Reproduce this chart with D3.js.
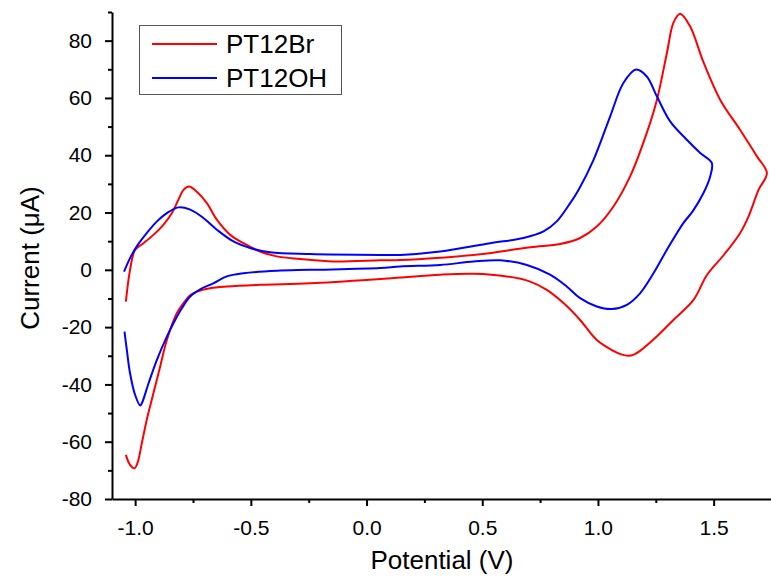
<!DOCTYPE html>
<html lang="en">
<head>
    <meta charset="UTF-8" />
    <title>Cyclic voltammetry PT12Br / PT12OH</title>
    <script src="https://d3js.org/d3.v7.min.js"></script>
    <style>
        body { margin: 0; background: #fff; }
        svg { display: block; font-family: "Liberation Sans", Arial, sans-serif; }
    </style>
</head>
<body>
    <div id="cv-graph"></div>

    <script>
        // PT12Br: anodic scan then cathodic scan back
        const brPotential = [-1.040, -1.022, -1.000, -0.964, -0.921, -0.878, -0.841, -0.813, -0.791, -0.767, -0.730, -0.690, -0.647, -0.589, -0.532, -0.460, -0.388, -0.287, -0.144, 0.059, 0.145, 0.318, 0.491, 0.707, 0.837, 0.923, 0.995, 1.067, 1.139, 1.211, 1.255, 1.298, 1.326, 1.355, 1.398, 1.456, 1.528, 1.614, 1.687, 1.730,
            1.694, 1.650, 1.614, 1.542, 1.471, 1.413, 1.326, 1.254, 1.182, 1.155, 1.132, 1.100, 1.067, 0.995, 0.923, 0.851, 0.779, 0.707, 0.606, 0.462, 0.318, 0.145, 0.059, -0.244, -0.460, -0.604, -0.676, -0.733, -0.762, -0.790, -0.820, -0.863, -0.892, -0.921, -0.950, -0.971, -0.990, -1.003, -1.022, -1.040]
        const brCurrent = [-11.1, 0, 7.0, 9.3, 12.2, 15.7, 19.8, 24.5, 27.9, 29.1, 27.0, 23.3, 17.5, 12.2, 9.3, 6.4, 4.7, 3.8, 2.9, 3.3, 3.4, 4.2, 5.4, 7.9, 9.0, 11.1, 15.1, 22.1, 32.6, 47.8, 59.4, 75.7, 86.2, 89.4, 85.0, 72.5, 59.4, 48.9, 39.6, 33.8,
            27.9, 18.5, 12.8, 5.0, -1.8, -10.5, -17.5, -23.3, -28.3, -29.6, -30.0, -29.5, -28.3, -24.5, -17.5, -11.6, -7.0, -4.1, -2.3, -1.4, -1.7, -2.7, -3.2, -4.7, -5.2, -5.8, -6.4, -7.6, -8.9, -11.5, -15.1, -24.5, -33.8, -43.1, -52.4, -60.5, -67.5, -69.3, -68.1, -64.6]

        // PT12OH
        const ohPotential = [-1.048, -1.022, -0.993, -0.950, -0.906, -0.863, -0.813, -0.762, -0.705, -0.647, -0.575, -0.503, -0.417, -0.244, 0.059, 0.145, 0.318, 0.534, 0.678, 0.765, 0.822, 0.880, 0.916, 0.981, 1.053, 1.110, 1.165, 1.211, 1.255, 1.312, 1.384, 1.442, 1.492,
            1.485, 1.456, 1.410, 1.369, 1.298, 1.240, 1.182, 1.125, 1.060, 0.995, 0.923, 0.865, 0.793, 0.693, 0.577, 0.462, 0.318, 0.145, 0.059, -0.244, -0.388, -0.532, -0.604, -0.662, -0.719, -0.762, -0.798, -0.827, -0.863, -0.906, -0.942, -0.971, -0.978, -1.000, -1.022, -1.036, -1.046]
        const ohCurrent = [-0.6, 4.1, 8.2, 12.8, 16.9, 19.8, 21.8, 21.0, 18.1, 14.0, 9.9, 7.6, 6.1, 5.5, 5.2, 5.2, 6.4, 9.3, 11.1, 13.4, 16.9, 23.3, 27.9, 38.4, 53.6, 65.2, 69.9, 67.5, 60.5, 51.8, 45.4, 40.8, 37.3,
            32.6, 26.8, 20.5, 16.3, 7.0, -1.2, -8.2, -12.2, -13.7, -12.8, -9.9, -5.8, -1.7, 1.7, 3.3, 2.9, 1.7, 1.2, 0.6, 0, -0.3, -1.2, -2.3, -4.7, -6.8, -9.3, -13.4, -17.5, -23.3, -31.4, -39.6, -46.6, -47.4, -43.7, -36.1, -27.9, -21.6]

        const seriesNames = ["PT12Br", "PT12OH"]
        const colors = ["#ff0000", "#0000ff"]

        const xTicks = [-1.0, -0.5, 0.0, 0.5, 1.0, 1.5]
        const xMinorTicks = [-0.75, -0.25, 0.25, 0.75, 1.25]
        const yTicks = [-80, -60, -40, -20, 0, 20, 40, 60, 80]
        const yMinorTicks = [-70, -50, -30, -10, 10, 30, 50, 70, 90]

        const width = 771
        const height = 578
        const margin = ({ top: 12, right: 0, bottom: 79, left: 112 })

        const x = d3.scaleLinear()
            .domain([-1.1, 1.75])
            .range([margin.left, margin.left + 659.5])

        const y = d3.scaleLinear()
            .domain([-80, 90])
            .range([height - margin.bottom, margin.top])

        const svg = d3.select("#cv-graph").append("svg")
            .attr("width", width)
            .attr("height", height)

        const series = [
            { name: seriesNames[0], values: brPotential.map((v, i) => [v, brCurrent[i]]) },
            { name: seriesNames[1], values: ohPotential.map((v, i) => [v, ohCurrent[i]]) }
        ]

        const line = d3.line()
            .x(d => x(d[0]))
            .y(d => y(d[1]))
            .curve(d3.curveCatmullRom.alpha(0.5))

        svg.append("g")
            .attr("fill", "none")
            .attr("stroke-width", 2)
            .attr("stroke-linejoin", "round")
            .selectAll("path")
            .data(series)
            .join("path")
            .attr("stroke", (d, i) => colors[i])
            .attr("d", d => line(d.values))

        // axes
        const styleAxis = g => {
            g.select(".domain").attr("stroke-width", 2)
            g.selectAll(".tick line").attr("stroke-width", 2)
            g.selectAll(".tick text").attr("font-size", 21).attr("fill", "#000")
        }

        svg.append("g")
            .attr("transform", `translate(0,${y(-80)})`)
            .call(d3.axisBottom(x).tickValues(xMinorTicks).tickSize(4).tickFormat(""))
            .call(g => g.select(".domain").remove())
            .call(g => g.selectAll(".tick line").attr("stroke-width", 2))

        svg.append("g")
            .attr("transform", `translate(${margin.left},0)`)
            .call(d3.axisLeft(y).tickValues(yMinorTicks).tickSize(4).tickFormat(""))
            .call(g => g.select(".domain").remove())
            .call(g => g.selectAll(".tick line").attr("stroke-width", 2))

        svg.append("g")
            .attr("transform", `translate(0,${y(-80)})`)
            .call(d3.axisBottom(x).tickValues(xTicks).tickSize(7).tickSizeOuter(0).tickPadding(14))
            .call(styleAxis)
            .call(g => g.selectAll(".tick text").text(d => d3.format(".1f")(d).replace("−", "-")))

        svg.append("g")
            .attr("transform", `translate(${margin.left},0)`)
            .call(d3.axisLeft(y).tickValues(yTicks).tickSize(7).tickSizeOuter(0).tickPadding(13))
            .call(styleAxis)
            .call(g => g.selectAll(".tick text").text(d => String(d)))

        // axis titles
        svg.append("text")
            .attr("x", 442)
            .attr("y", 569)
            .attr("text-anchor", "middle")
            .attr("font-size", 26)
            .text("Potential (V)")

        svg.append("text")
            .attr("transform", "translate(39,258) rotate(-90)")
            .attr("text-anchor", "middle")
            .attr("font-size", 26)
            .text("Current (μA)")

        // legend
        const legend = svg.append("g")

        legend.append("rect")
            .attr("x", 139.5)
            .attr("y", 25.5)
            .attr("width", 202)
            .attr("height", 69)
            .attr("fill", "#fff")
            .attr("stroke", "#555")
            .attr("stroke-width", 1)

        const rows = legend.selectAll("g.row")
            .data(series)
            .join("g")
            .attr("class", "row")
            .attr("transform", (d, i) => `translate(0,${44 + i * 34})`)

        rows.append("line")
            .attr("x1", 152)
            .attr("x2", 217)
            .attr("stroke", (d, i) => colors[i])
            .attr("stroke-width", 2)

        rows.append("text")
            .attr("x", 226)
            .attr("y", 9)
            .attr("font-size", 26)
            .text(d => d.name)
    </script>
</body>
</html>
